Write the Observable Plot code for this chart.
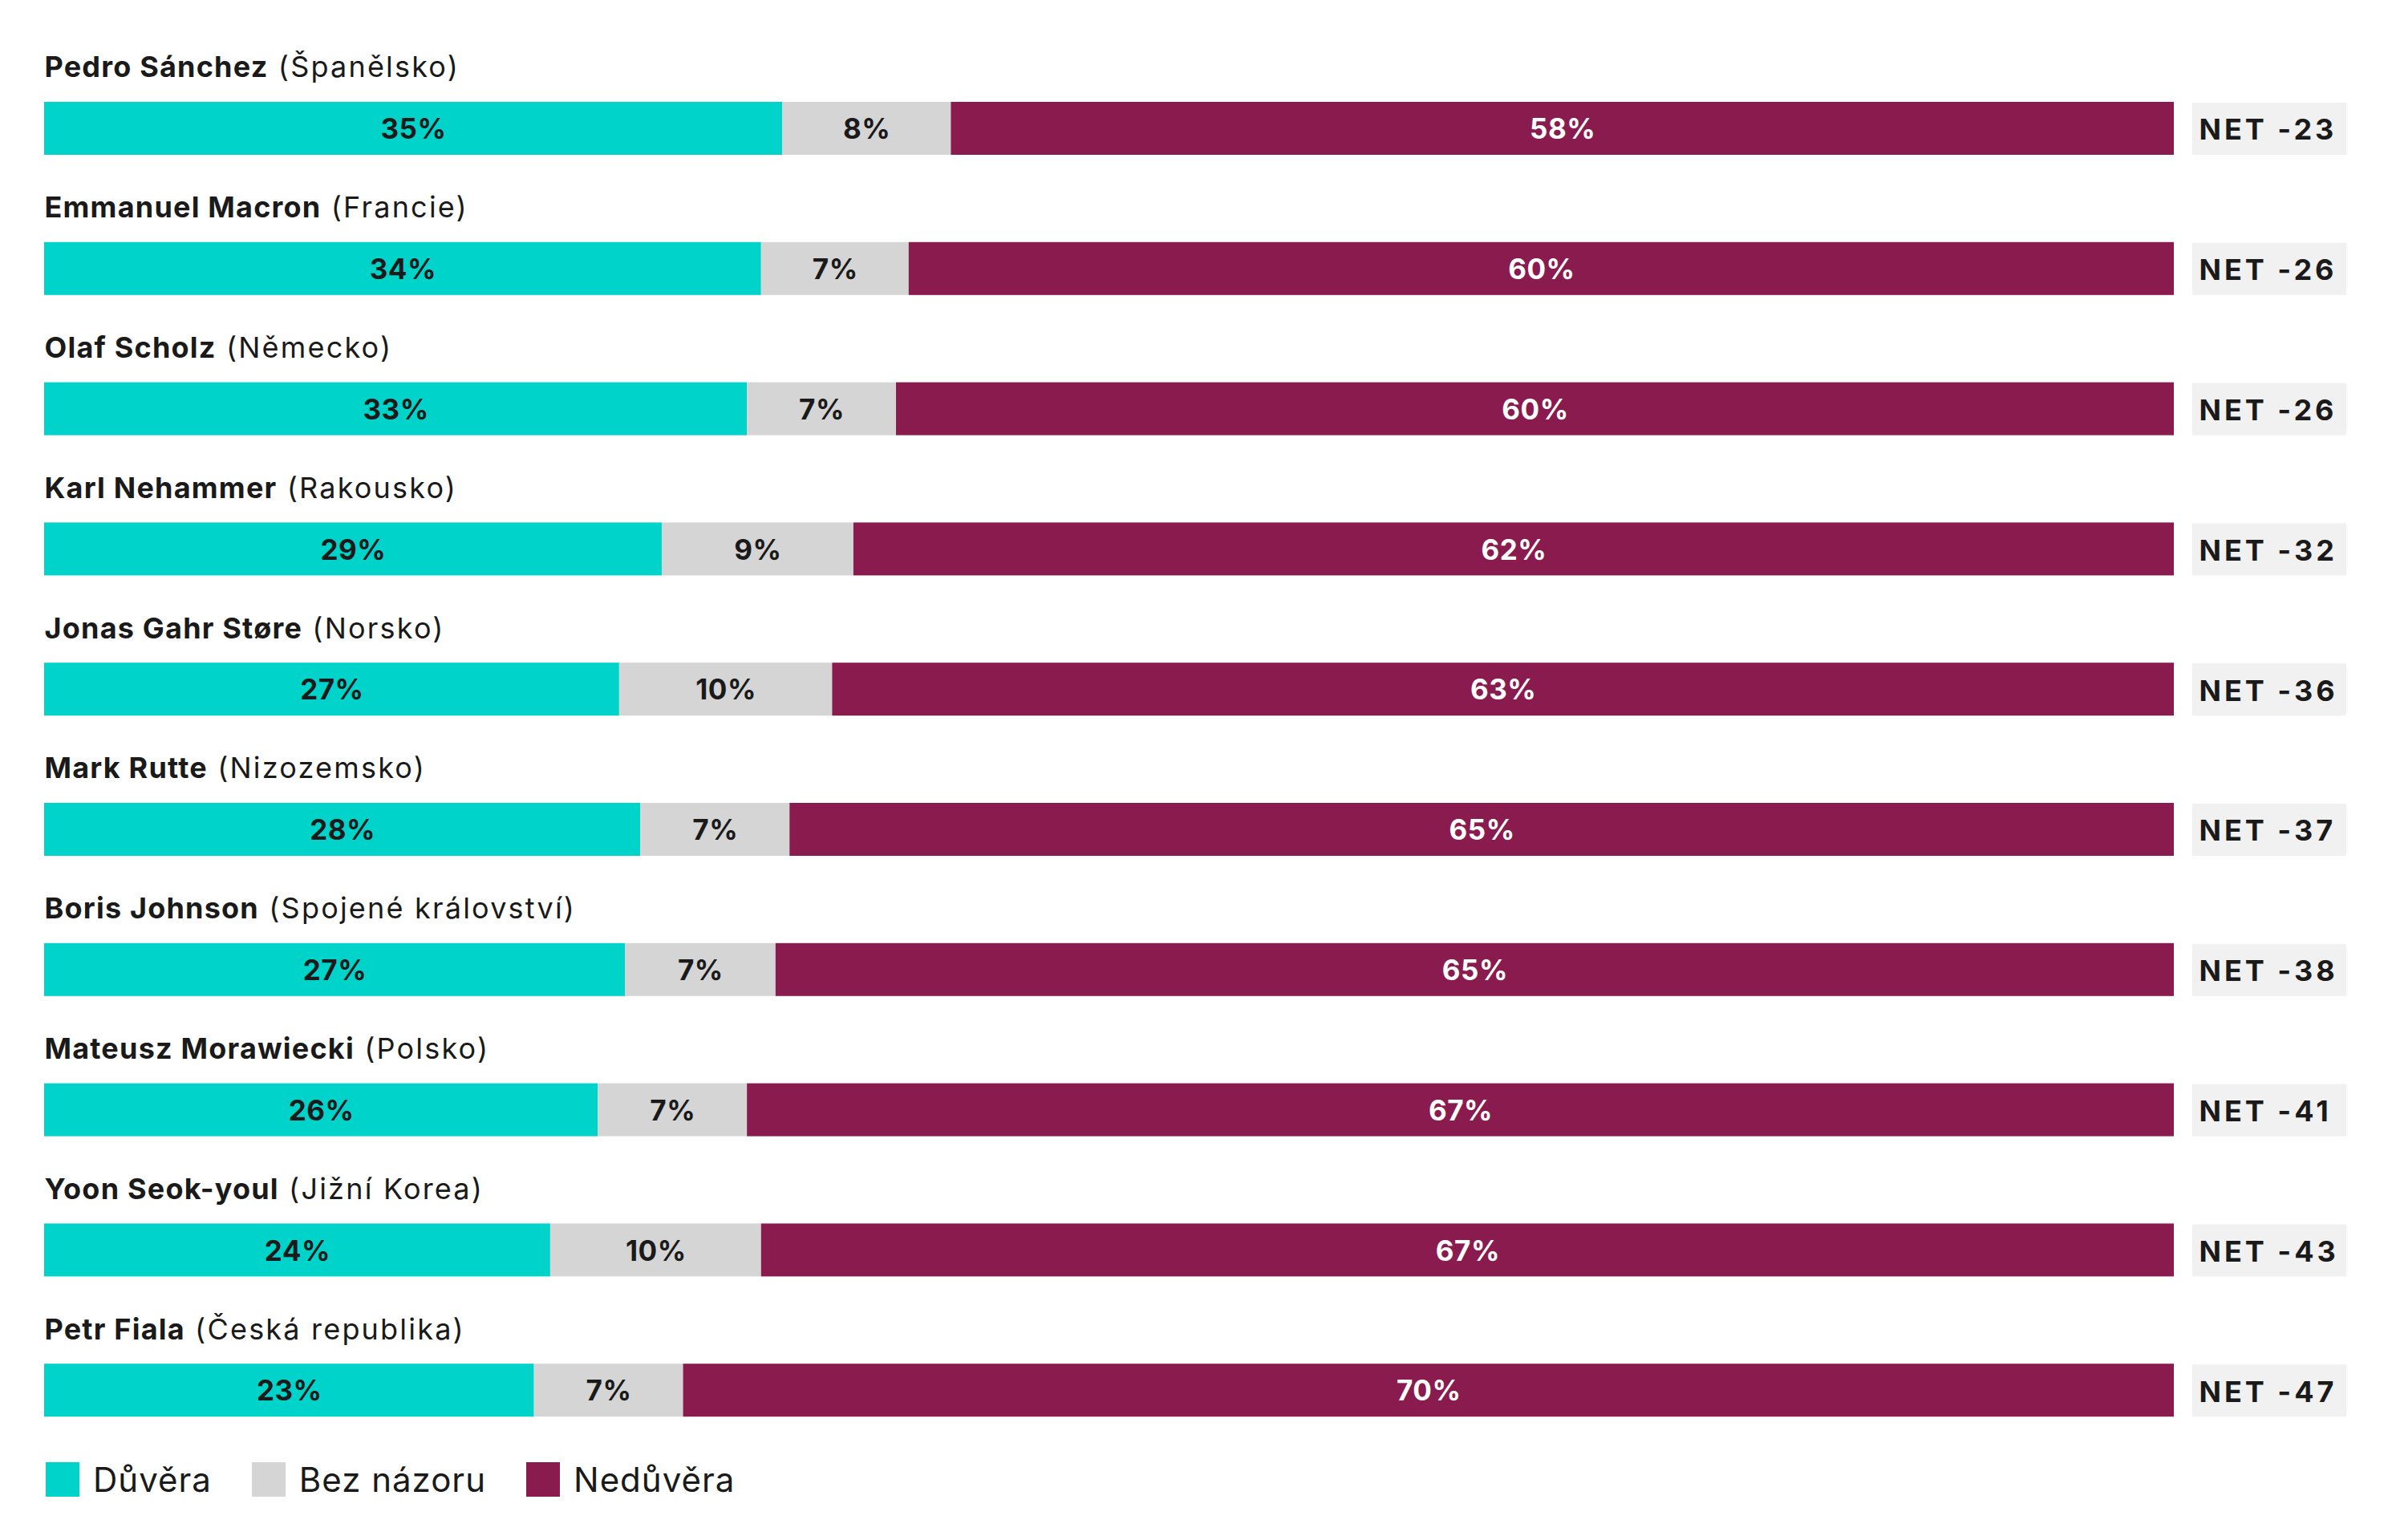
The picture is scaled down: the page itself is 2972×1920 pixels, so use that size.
<!DOCTYPE html>
<html>
<head>
<meta charset="utf-8">
<script src="https://cdn.jsdelivr.net/npm/d3@7"></script>
<script src="https://cdn.jsdelivr.net/npm/@observablehq/plot@0.6"></script>
<style>
  html, body { margin: 0; padding: 0; background: #ffffff; }
  #chart { width: 2972px; }
  .legend {
    display: flex; align-items: center;
    margin: 31px 0 0 57px;
    font-family: Inter, sans-serif; font-size: 42px; letter-spacing: 1px; color: #1a1a1a;
  }
  .legend .item { display: flex; align-items: center; margin-right: 50px; }
  .legend .swatch { width: 42px; height: 43px; margin-right: 17px; }
</style>
</head>
<body>
<div id="chart"></div>
<script>
// Leaders and their countries, top to bottom
const leaders = [
  "Pedro Sánchez", "Emmanuel Macron", "Olaf Scholz", "Karl Nehammer",
  "Jonas Gahr Støre", "Mark Rutte", "Boris Johnson", "Mateusz Morawiecki",
  "Yoon Seok-youl", "Petr Fiala"
];
const countries = [
  "Španělsko", "Francie", "Německo", "Rakousko", "Norsko",
  "Nizozemsko", "Spojené království", "Polsko", "Jižní Korea", "Česká republika"
];

// Shares in percent
const trust     = [35, 34, 33, 29, 27, 28, 27, 26, 24, 23];
const noOpinion = [ 8,  7,  7,  9, 10,  7,  7,  7, 10,  7];
const distrust  = [58, 60, 60, 62, 63, 65, 65, 67, 67, 70];
const netScore  = [-23, -26, -26, -32, -36, -37, -38, -41, -43, -47];

const categories = ["Důvěra", "Bez názoru", "Nedůvěra"];
const colors = ["#00d3ca", "#d5d5d5", "#8a1b4e"];

// Long table for stacking
const rows = leaders.flatMap((name, i) => [
  {name, category: categories[0], value: trust[i]},
  {name, category: categories[1], value: noOpinion[i]},
  {name, category: categories[2], value: distrust[i]}
]);
const summary = leaders.map((name, i) => ({name, country: countries[i], net: netScore[i]}));

const stack = (opts) => Plot.stackX({
  offset: "normalize", x: "value", y: "name", z: "category", order: categories, ...opts
});

const bandStep = 174.8;
const barTop = 87, barBottom = bandStep - 87 - 66;
const onDark = (d) => d.category === "Nedůvěra";

const chart = Plot.plot({
  width: 2972,
  height: 40 + bandStep * leaders.length,
  marginTop: 40, marginBottom: 0, marginLeft: 55, marginRight: 262,
  style: {fontFamily: "Inter, sans-serif", background: "#ffffff", color: "#1a1a1a"},
  x: {domain: [0, 1], axis: null},
  y: {domain: leaders, padding: 0, round: false, axis: null},
  color: {domain: categories, range: colors},
  marks: [
    Plot.barX(rows, stack({fill: "category", insetTop: barTop, insetBottom: barBottom})),
    // leader names (country appended below in regular weight)
    Plot.text(summary, {
      x: () => 0, y: "name", text: "name", textAnchor: "start",
      fontSize: 36, fontWeight: 700, fill: "#1a1a1a", dy: -43
    }),
    // segment labels: dark on light segments, white on the distrust segment
    Plot.text(rows, stack({
      text: d => onDark(d) ? null : `${d.value}%`,
      fontSize: 35, fontWeight: 700, fill: "#1a1a1a", dy: 34
    })),
    Plot.text(rows, stack({
      text: d => onDark(d) ? `${d.value}%` : null,
      fontSize: 35, fontWeight: 700, fill: "#ffffff", dy: 34
    })),
    // NET badge to the right of each bar
    Plot.rect(summary, {
      x1: () => 1, x2: () => 1, y: "name",
      insetLeft: 23, insetRight: -215, insetTop: barTop + 1, insetBottom: barBottom,
      fill: "#f1f1f1"
    }),
    Plot.text(summary, {
      x: () => 1, y: "name", text: d => `NET ${d.net}`, textAnchor: "start",
      dx: 31, dy: 35, fontSize: 36, fontWeight: 700, fill: "#1a1a1a"
    })
  ]
});

// Append the country in regular weight after each bold name; space out the NET labels
const textGroups = chart.querySelectorAll('g[aria-label="text"]');
textGroups[0].setAttribute("letter-spacing", "1.2");
textGroups[0].querySelectorAll("text").forEach((t, i) => {
  const span = document.createElementNS("http://www.w3.org/2000/svg", "tspan");
  span.setAttribute("font-weight", "400");
  span.setAttribute("letter-spacing", "2.2");
  span.textContent = ` (${countries[i]})`;
  t.appendChild(span);
});
textGroups[1].setAttribute("letter-spacing", "0.5");
textGroups[2].setAttribute("letter-spacing", "0.5");
textGroups[3].setAttribute("letter-spacing", "4");

document.getElementById("chart").appendChild(chart);

// Legend below the chart
const legend = document.createElement("div");
legend.className = "legend";
categories.forEach((c, i) => {
  const item = document.createElement("div");
  item.className = "item";
  const sw = document.createElement("div");
  sw.className = "swatch";
  sw.style.background = colors[i];
  const label = document.createElement("span");
  label.textContent = c;
  item.append(sw, label);
  legend.appendChild(item);
});
document.body.appendChild(legend);
</script>
</body>
</html>
